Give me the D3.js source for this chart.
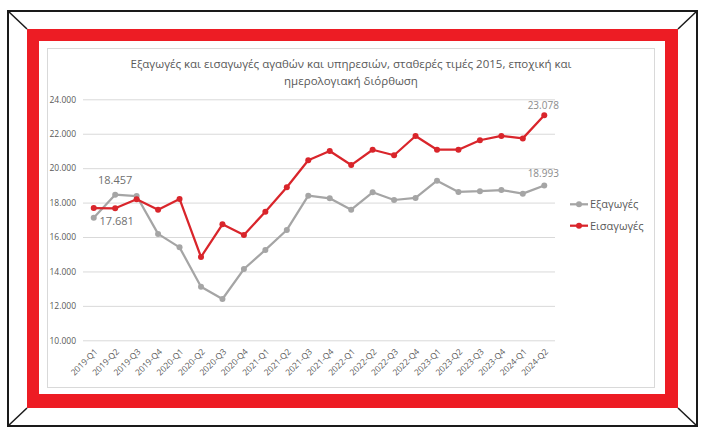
<!DOCTYPE html>
<html>
<head>
<meta charset="utf-8">
<script src="https://cdn.jsdelivr.net/npm/d3@7"></script>
<style>
  body { margin: 0; background: #fff; }
  text { font-family: "Open Sans", "Noto Sans", sans-serif; }
</style>
</head>
<body>
<div id="chart"></div>
<script>
// data
var quarters = ["2019-Q1","2019-Q2","2019-Q3","2019-Q4","2020-Q1","2020-Q2","2020-Q3","2020-Q4",
  "2021-Q1","2021-Q2","2021-Q3","2021-Q4","2022-Q1","2022-Q2","2022-Q3","2022-Q4",
  "2023-Q1","2023-Q2","2023-Q3","2023-Q4","2024-Q1","2024-Q2"];
var exportsVals = [17120,18457,18380,16180,15400,13110,12400,14140,15250,16410,18400,18250,
  17590,18600,18150,18270,19270,18620,18660,18730,18520,18993];
var importsVals = [17681,17670,18190,17590,18210,14840,16740,16120,17470,18890,20460,21000,
  20180,21070,20750,21870,21070,21070,21620,21870,21730,23078];
var yTicks = [10000,12000,14000,16000,18000,20000,22000,24000];
var seriesNames = ["Εξαγωγές","Εισαγωγές"];
var titleLines = ["Εξαγωγές και εισαγωγές αγαθών και υπηρεσιών, σταθερές τιμές 2015, εποχική και",
  "ημερολογιακή διόρθωση"];

var W = 704, H = 435;
var colors = ["#a5a5a5", "#d9252b"];

var svg = d3.select("#chart").append("svg")
  .attr("width", W)
  .attr("height", H);

// outer frame
svg.append("rect")
  .attr("x", 8).attr("y", 11)
  .attr("width", 689).attr("height", 415)
  .attr("fill", "#fff").attr("stroke", "#1a1a1a").attr("stroke-width", 2);
// corner diagonals
[[8,11,27,29],[697,11,678,29],[8,426,27,408],[697,426,678,408]].forEach(function(d) {
  svg.append("line")
    .attr("x1", d[0]).attr("y1", d[1]).attr("x2", d[2]).attr("y2", d[3])
    .attr("stroke", "#1a1a1a").attr("stroke-width", 1.5);
});
// red frame
svg.append("rect")
  .attr("x", 27).attr("y", 29)
  .attr("width", 651).attr("height", 379)
  .attr("fill", "#ed1c24");
svg.append("rect")
  .attr("x", 39).attr("y", 41)
  .attr("width", 626).attr("height", 353)
  .attr("fill", "#fff");
// chart area border
svg.append("rect")
  .attr("x", 47.5).attr("y", 48.5)
  .attr("width", 607).attr("height", 339)
  .attr("fill", "#fff").attr("stroke", "#d9d9d9").attr("stroke-width", 1);

// title
svg.append("g").selectAll("text")
  .data(titleLines)
  .join("text")
  .attr("x", 351)
  .attr("y", function(d, i) { return 68 + i * 17; })
  .attr("text-anchor", "middle")
  .attr("font-size", 11.5)
  .attr("fill", "#595959")
  .text(function(d) { return d; });

// scales
var x = d3.scalePoint()
  .domain(quarters)
  .range([83, 555])
  .padding(0.5);
var y = d3.scaleLinear()
  .domain([10000, 24000])
  .range([340.3, 99.3]);

var loc = d3.formatLocale({decimal: ",", thousands: ".", grouping: [3], currency: ["", ""]});
var fmt = loc.format(",.0f");
var fmt3 = loc.format(",.0f");

// y axis + gridlines
var yAxis = svg.append("g")
  .attr("transform", "translate(83,0)")
  .call(d3.axisLeft(y).tickValues(yTicks).tickFormat(fmt).tickSize(-(555 - 83)).tickPadding(7));
yAxis.select(".domain").remove();
yAxis.selectAll(".tick line").attr("stroke", "#d9d9d9");
yAxis.selectAll(".tick text")
  .attr("fill", "#595959")
  .attr("font-size", 8.5)
  .style("font-family", "'Open Sans', sans-serif");

// x axis
var xAxis = svg.append("g")
  .attr("transform", "translate(0,340.3)")
  .call(d3.axisBottom(x).tickSize(0));
xAxis.select(".domain").remove();
xAxis.selectAll(".tick text")
  .attr("fill", "#595959")
  .attr("font-size", 8.5)
  .style("font-family", "'Open Sans', sans-serif")
  .attr("text-anchor", "end")
  .attr("dy", null)
  .attr("y", 0)
  .attr("transform", "translate(4,12) rotate(-45)");

// lines
var series = [exportsVals, importsVals];
var line = d3.line()
  .x(function(d, i) { return x(quarters[i]); })
  .y(function(d) { return y(d); });

series.forEach(function(vals, s) {
  svg.append("path")
    .datum(vals)
    .attr("fill", "none")
    .attr("stroke", colors[s])
    .attr("stroke-width", 2.25)
    .attr("stroke-linejoin", "round")
    .attr("d", line);
  svg.append("g").selectAll("circle")
    .data(vals)
    .join("circle")
    .attr("cx", function(d, i) { return x(quarters[i]); })
    .attr("cy", function(d) { return y(d); })
    .attr("r", 3)
    .attr("fill", colors[s]);
});

// data labels
var labels = [
  {s: 0, i: 1, dx: 0, dy: -11},
  {s: 1, i: 0, dx: 23, dy: 17},
  {s: 1, i: 21, dx: -1, dy: -6},
  {s: 0, i: 21, dx: -1, dy: -8}
];
svg.append("g").selectAll("text")
  .data(labels)
  .join("text")
  .attr("x", function(d) { return x(quarters[d.i]) + d.dx; })
  .attr("y", function(d) { return y(series[d.s][d.i]) + d.dy; })
  .attr("text-anchor", "middle")
  .attr("font-size", function(d) { return d.i == 21 ? 10 : 11; })
  .attr("fill", function(d) { return d.i == 21 ? "#8c8c8c" : "#6f6f6f"; })
  .text(function(d) { return fmt3(series[d.s][d.i]); });

// legend
var legend = svg.append("g").selectAll("g")
  .data(seriesNames)
  .join("g")
  .attr("transform", function(d, i) { return "translate(570," + (204.3 + i * 21.4) + ")"; });
legend.append("line")
  .attr("x1", 0).attr("x2", 18)
  .attr("stroke", function(d, i) { return colors[i]; })
  .attr("stroke-width", 2.25);
legend.append("circle")
  .attr("cx", 9).attr("r", 3)
  .attr("fill", function(d, i) { return colors[i]; });
legend.append("text")
  .attr("x", 20)
  .attr("dy", "0.35em")
  .attr("font-size", 11)
  .attr("fill", "#595959")
  .text(function(d) { return d; });
</script>
</body>
</html>
